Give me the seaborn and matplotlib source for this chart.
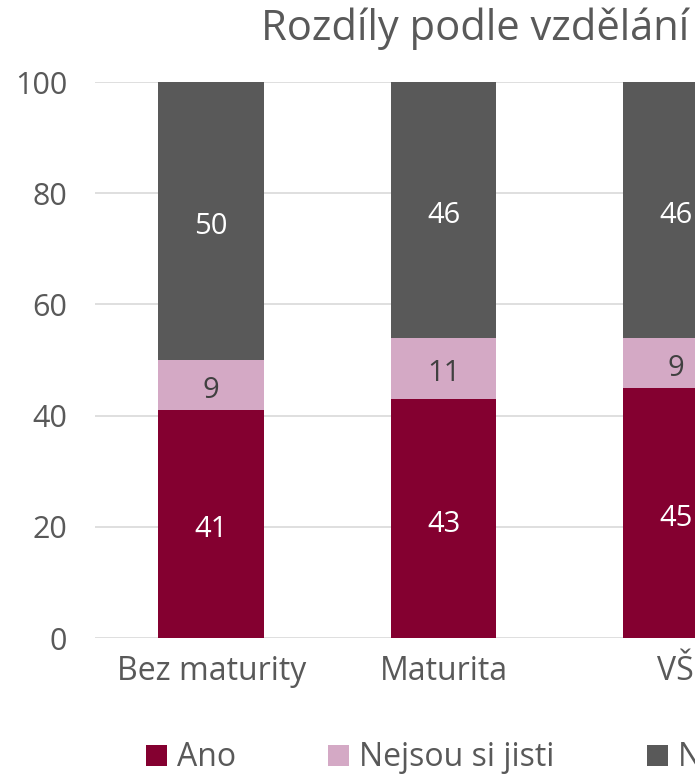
import numpy as np
import pandas as pd
import matplotlib.pyplot as plt
import seaborn as sns

# data
categories = ['Bez maturity', 'Maturita', 'VŠ']
ano = [41, 43, 45]
nejsou = [9, 11, 9]
ne = [50, 46, 46]
series_names = ['Ano', 'Nejsou si jisti', 'Ne']
colors = ['#840030', '#D4A9C5', '#595959']
label_colors = ['white', '#404040', 'white']

sns.set_theme(style="white")
plt.rcParams['font.family'] = ['Open Sans', 'DejaVu Sans']
text_col = '#595959'

W, H = 695, 779
fig = plt.figure(figsize=(W / 100, H / 100), dpi=100)
# plot area runs past the right edge, like the cropped original
left, right, top, bottom = 95, 792, 82, 638
ax = fig.add_axes([left / W, 1 - bottom / H, (right - left) / W, (bottom - top) / H])

data = pd.DataFrame({'kat': categories, 'Ano': ano, 'Nejsou si jisti': nejsou, 'Ne': ne})
base = np.zeros(len(categories))
for name, col, lc in zip(series_names, colors, label_colors):
    sns.barplot(data=data, x='kat', y=name, bottom=base, color=col, width=0.455,
                label=name, ax=ax, saturation=1, linewidth=0)
    texts = ax.bar_label(ax.containers[-1], label_type='center', color=lc, fontsize=21)
    for t in texts:
        t.xyann = (0, -4)
    base = base + data[name].values

ax.set_ylim(0, 100)
ax.set_xlim(-0.5, 2.5)
ax.set_yticks(range(0, 101, 20))
ax.yaxis.grid(True, color='#D9D9D9', linewidth=1.2)
ax.set_axisbelow(True)
for s in ax.spines.values():
    s.set_visible(False)
ax.tick_params(axis='y', length=0, pad=20, labelsize=22, labelcolor=text_col)
ax.tick_params(axis='x', length=0, pad=12, labelsize=23, labelcolor=text_col)
ax.set_xlabel('')
ax.set_ylabel('')
if ax.get_legend():
    ax.get_legend().remove()

fig.text(475 / W, 1 - 29 / H, 'Rozdíly podle vzdělání', ha='center', va='center',
         fontsize=30, color=text_col)

handles, labels = ax.get_legend_handles_labels()
fig.legend(handles[:3], labels[:3], loc='center left', bbox_to_anchor=(146 / W, 1 - 758 / H),
           ncol=3, frameon=False, fontsize=23, labelcolor=text_col, borderpad=0,
           borderaxespad=0, handlelength=0.65, handleheight=0.65, handletextpad=0.31,
           columnspacing=2.9)

fig.savefig('out.png', dpi=100)
